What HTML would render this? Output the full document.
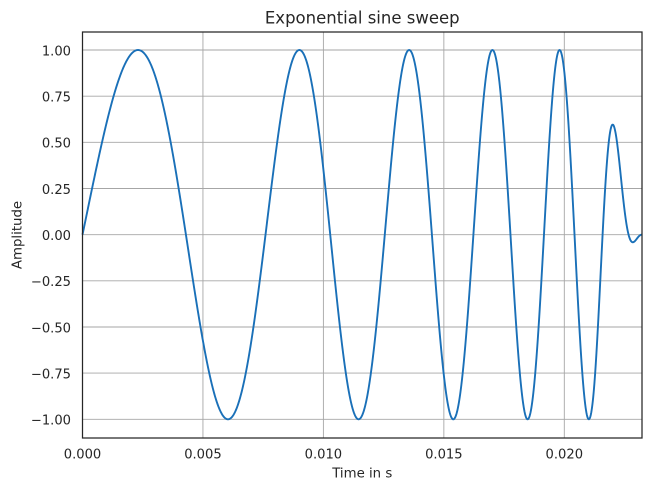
<!DOCTYPE html>
<html>
<head>
<meta charset="utf-8">
<style>
  html,body{margin:0;padding:0;background:#fff;}
  svg{display:block;}
  text{font-family:"DejaVu Sans","Liberation Sans",sans-serif;fill:#262626;}
</style>
</head>
<body>
<svg id="chart" width="651" height="491" viewBox="0 0 651 491" xmlns="http://www.w3.org/2000/svg">
  <rect x="0" y="0" width="651" height="491" fill="#ffffff"/>
  <g id="grid" stroke="#a6a6a6" stroke-width="0.9" fill="none">
    <line x1="202.95" y1="32" x2="202.95" y2="438"/>
    <line x1="323.4" y1="32" x2="323.4" y2="438"/>
    <line x1="443.85" y1="32" x2="443.85" y2="438"/>
    <line x1="564.3" y1="32" x2="564.3" y2="438"/>
    <line x1="82.5" y1="50" x2="642" y2="50"/>
    <line x1="82.5" y1="96.2" x2="642" y2="96.2"/>
    <line x1="82.5" y1="142.3" x2="642" y2="142.3"/>
    <line x1="82.5" y1="188.5" x2="642" y2="188.5"/>
    <line x1="82.5" y1="234.65" x2="642" y2="234.65"/>
    <line x1="82.5" y1="280.8" x2="642" y2="280.8"/>
    <line x1="82.5" y1="327" x2="642" y2="327"/>
    <line x1="82.5" y1="373.1" x2="642" y2="373.1"/>
    <line x1="82.5" y1="419.3" x2="642" y2="419.3"/>
  </g>
  <path id="curve" d="" fill="none" stroke="#1a70b8" stroke-width="1.9" stroke-linejoin="round" stroke-linecap="butt"/>
  <rect x="82.5" y="32" width="559.5" height="406" fill="none" stroke="#262626" stroke-width="1.25"/>

  <g font-size="13.1" text-anchor="end">
    <text x="71" y="55.3">1.00</text>
    <text x="71" y="101.5">0.75</text>
    <text x="71" y="147.6">0.50</text>
    <text x="71" y="193.8">0.25</text>
    <text x="71" y="239.9">0.00</text>
    <text x="71" y="286.1">−0.25</text>
    <text x="71" y="332.3">−0.50</text>
    <text x="71" y="378.4">−0.75</text>
    <text x="71" y="424.6">−1.00</text>
  </g>
  <g font-size="13.1" text-anchor="middle">
    <text x="82.5" y="458.5">0.000</text>
    <text x="202.95" y="458.5">0.005</text>
    <text x="323.4" y="458.5">0.010</text>
    <text x="443.85" y="458.5">0.015</text>
    <text x="564.3" y="458.5">0.020</text>
  </g>
  <text x="362.25" y="477.7" font-size="13.3" text-anchor="middle">Time in s</text>
  <text x="0" y="0" font-size="13.3" text-anchor="middle" transform="translate(21.5,235) rotate(-90)">Amplitude</text>
  <text x="362.25" y="23.3" font-size="16.5" text-anchor="middle">Exponential sine sweep</text>
</svg>
<script>
(function(){
  var T = 0.02322, f1 = 100, f2 = 500;
  var L = T/Math.log(f2/f1);
  var K = 2*Math.PI*f1*L;
  var Lf = 0.00205;
  var sx = 24090, x0 = 82.5, y0 = 234.65, sy = 184.65;
  var tmax = (642 - 82.5)/sx;
  var d = [];
  var N = 1400;
  for (var i=0;i<=N;i++){
    var t = tmax*i/N;
    var v = Math.sin(K*(Math.exp(t/L)-1));
    var st = T - Lf;
    if (t > st){
      var s = Math.min(1,(t-st)/Lf);
      v *= 0.5*(1+Math.cos(Math.PI*s));
    }
    var X = x0 + t*sx, Y = y0 - v*sy;
    d.push((i?'L':'M') + X.toFixed(2) + ' ' + Y.toFixed(2));
  }
  document.getElementById('curve').setAttribute('d', d.join(' '));
})();
</script>
</body>
</html>
